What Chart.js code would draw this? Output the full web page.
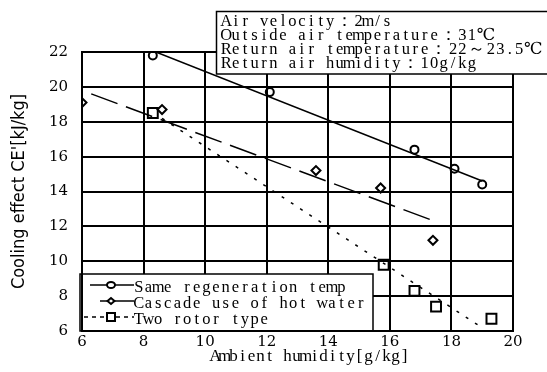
<!DOCTYPE html>
<html>
<head>
<meta charset="utf-8">
<script src="https://cdn.jsdelivr.net/npm/chart.js@4"></script>
<style>
  html, body { margin: 0; padding: 0; background: #fff; }
</style>
</head>
<body>
<canvas id="myChart" width="547" height="372"></canvas>
<script>
// measured points
const sameRegenX = [8.3, 12.1, 16.8, 18.1, 19.0];
const sameRegenY = [21.8, 19.7, 16.4, 15.3, 14.4];
const cascadeX = [6.0, 8.6, 13.6, 15.7, 17.4];
const cascadeY = [19.1, 18.7, 15.2, 14.2, 11.2];
const twoRotorX = [8.3, 15.8, 16.8, 17.5, 19.3];
const twoRotorY = [18.5, 9.8, 8.3, 7.4, 6.7];

// trend line end points
const sameRegenFitX = [8.4, 19.0];
const sameRegenFitY = [22.0, 14.6];
const cascadeFitX = [6.3, 17.3];
const cascadeFitY = [19.6, 12.4];
const twoRotorFitX = [8.6, 18.9];
const twoRotorFitY = [18.2, 6.3];

const seriesLabels = ['Same regeneration temp', 'Cascade use of hot water', 'Two rotor type'];
const xTicks = [6, 8, 10, 12, 14, 16, 18, 20];
const yTicks = [6, 8, 10, 12, 14, 16, 18, 20, 22];
const xTitle = 'Ambient humidity[g/kg]';
const yTitle = "Cooling effect CE'[kJ/kg]";
const noteLines = ['Air velocity：2m/s', 'Outside air temperature：31℃', 'Return air temperature：22～23.5℃', 'Return air humidity：10g/kg'];

const toPoints = (xs, ys) => xs.map((x, i) => ({ x: x, y: ys[i] }));
const serifFont = '"Liberation Serif", "DejaVu Serif", serif';

// mincho-like fixed pitch text, wide chars take two cells
function drawMono(ctx, text, x, y, pitch) {
    let cx = x;
    for (const ch of text) {
        const w = ch.charCodeAt(0) > 0xff ? pitch * 2 : pitch;
        ctx.fillText(ch, cx + w / 2, y);
        cx += w;
    }
}

// legend sample style (line start, dash, marker)
const legendStyle = [
    { from: 90, dash: [], marker: 'circle' },
    { from: 100, dash: [], marker: 'diamond' },
    { from: 84, dash: [4, 4], marker: 'square' }
];

const boxesPlugin = {
    id: 'boxes',
    afterDraw(chart) {
        const ctx = chart.ctx;
        const area = chart.chartArea;
        ctx.save();
        ctx.textAlign = 'center';
        ctx.textBaseline = 'alphabetic';

        // x axis title
        ctx.fillStyle = '#000';
        ctx.font = '17px ' + serifFont;
        drawMono(ctx, xTitle, 211, 361, 9);

        // note box top right
        ctx.fillStyle = '#fff';
        ctx.strokeStyle = '#000';
        ctx.lineWidth = 1.5;
        ctx.fillRect(216.5, 11.5, 332, 62.5);
        ctx.strokeRect(216.5, 11.5, 332, 62.5);
        ctx.fillStyle = '#000';
        ctx.font = '16.5px ' + serifFont;
        noteLines.forEach((t, i) => drawMono(ctx, t, 221.5, 25.5 + i * 14.3, 9.45));

        // legend box bottom left
        const lx = area.left - 2, ly = 274, lw = 373 - lx, lh = area.bottom - ly;
        ctx.fillStyle = '#fff';
        ctx.fillRect(lx, ly, lw, lh);
        ctx.lineWidth = 1.5;
        ctx.strokeRect(lx, ly, lw, lh);
        ctx.lineWidth = 2;
        ctx.beginPath();
        ctx.moveTo(area.left, ly);
        ctx.lineTo(area.left, area.bottom);
        ctx.lineTo(373, area.bottom);
        ctx.stroke();

        seriesLabels.forEach((label, i) => {
            const st = legendStyle[i];
            const y = 285 + i * 16;
            ctx.strokeStyle = '#000';
            ctx.lineWidth = 1.5;
            ctx.setLineDash(st.dash);
            ctx.beginPath();
            ctx.moveTo(st.from, y);
            ctx.lineTo(134, y);
            ctx.stroke();
            ctx.setLineDash([]);
            ctx.fillStyle = '#fff';
            ctx.lineWidth = 2;
            ctx.beginPath();
            if (st.marker === 'circle') {
                ctx.ellipse(111, y, 4, 3, 0, 0, Math.PI * 2);
            } else if (st.marker === 'diamond') {
                ctx.moveTo(107.5, y); ctx.lineTo(111, y - 3); ctx.lineTo(114.5, y); ctx.lineTo(111, y + 3); ctx.closePath();
            } else {
                ctx.rect(107, y - 4, 8, 8);
            }
            ctx.fill();
            ctx.stroke();
            ctx.fillStyle = '#000';
            ctx.font = '16.5px ' + serifFont;
            drawMono(ctx, label, 134, y + 6.5, 9.65);
        });
        ctx.restore();
    }
};

const ctx = document.getElementById('myChart').getContext('2d');
const myChart = new Chart(ctx, {
    type: 'scatter',
    data: {
        datasets: [
            {
                label: seriesLabels[0],
                data: toPoints(sameRegenX, sameRegenY),
                pointStyle: 'circle',
                pointRadius: 4,
                borderColor: '#000',
                backgroundColor: 'rgba(0,0,0,0)',
                borderWidth: 2
            },
            {
                label: seriesLabels[1],
                data: toPoints(cascadeX, cascadeY),
                pointStyle: 'rectRot',
                pointRadius: 4.5,
                borderColor: '#000',
                backgroundColor: 'rgba(0,0,0,0)',
                borderWidth: 2
            },
            {
                label: seriesLabels[2],
                data: toPoints(twoRotorX, twoRotorY),
                pointStyle: 'rect',
                pointRadius: 7,
                borderColor: '#000',
                backgroundColor: 'rgba(0,0,0,0)',
                borderWidth: 2
            },
            {
                label: 'fit 1',
                data: toPoints(sameRegenFitX, sameRegenFitY),
                showLine: true,
                pointRadius: 0,
                borderColor: '#000',
                borderWidth: 1.5
            },
            {
                label: 'fit 2',
                data: toPoints(cascadeFitX, cascadeFitY),
                showLine: true,
                pointRadius: 0,
                borderColor: '#000',
                borderWidth: 1.5,
                borderDash: [28, 9]
            },
            {
                label: 'fit 3',
                data: toPoints(twoRotorFitX, twoRotorFitY),
                showLine: true,
                pointRadius: 0,
                borderColor: '#000',
                borderWidth: 1.5,
                borderDash: [3, 8]
            }
        ]
    },
    options: {
        responsive: false,
        animation: false,
        layout: { padding: { top: 52, right: 34, left: 0, bottom: 0 } },
        plugins: {
            legend: { display: false },
            tooltip: { enabled: false }
        },
        scales: {
            x: {
                type: 'linear',
                min: 6,
                max: 20,
                afterFit: (scale) => { scale.height = 41; },
                afterBuildTicks: (scale) => { scale.ticks = xTicks.map(v => ({ value: v })); },
                grid: { color: '#000', lineWidth: 2, drawTicks: false },
                border: { color: '#000', width: 2 },
                ticks: {
                    color: '#000',
                    padding: 2,
                    maxRotation: 0,
                    font: { family: '"DejaVu Serif", serif', size: 15 }
                }
            },
            y: {
                type: 'linear',
                min: 6,
                max: 22,
                afterFit: (scale) => { scale.width = 82; },
                afterBuildTicks: (scale) => { scale.ticks = yTicks.map(v => ({ value: v })); },
                grid: { color: '#000', lineWidth: 2, drawTicks: false },
                border: { color: '#000', width: 2 },
                ticks: {
                    color: '#000',
                    padding: 14,
                    font: { family: '"DejaVu Serif", serif', size: 15 }
                },
                title: {
                    display: true,
                    text: yTitle,
                    color: '#000',
                    padding: { top: 9, bottom: 0 },
                    font: { family: '"DejaVu Sans Condensed", "DejaVu Sans", sans-serif', size: 18 }
                }
            }
        }
    },
    plugins: [boxesPlugin]
});
</script>
</body>
</html>
